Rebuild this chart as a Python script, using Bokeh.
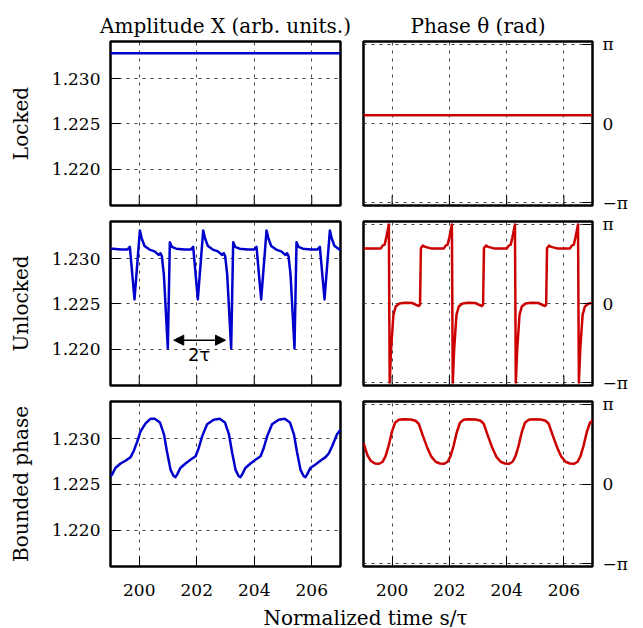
import math
from bokeh.plotting import figure
from bokeh.layouts import column, row
from bokeh.models import Range1d, PrintfTickFormatter, Arrow, NormalHead, Label
from bokeh.embed import file_html
from bokeh.resources import INLINE

# ---------------- data ----------------
t_ticks = [200, 202, 204, 206]
amp_ticks = [1.220, 1.225, 1.230]
phase_ticks = [-math.pi, 0.0, math.pi]
phase_labels = ["\u2212\u03c0", "0", "\u03c0"]

col_titles = ["Amplitude X (arb. units.)", "Phase \u03b8 (rad)"]
row_labels = ["Locked", "Unlocked", "Bounded phase"]
x_label = "Normalized time s/\u03c4"

# Locked
t_lock = [199.0, 207.0]
x_lock = [1.2328, 1.2328]
th_lock = [0.33, 0.33]

# Unlocked amplitude
t_unl = [199.000, 199.081, 199.371,
         199.585, 199.673, 199.835, 200.021, 200.090, 200.183, 200.357, 200.531, 200.681, 200.739, 200.785, 200.855, 200.994, 201.064, 201.134, 201.284, 201.574,
         201.788, 201.876, 202.038, 202.224, 202.293, 202.386, 202.560, 202.734, 202.884, 202.942, 202.988, 203.058, 203.197, 203.267, 203.337, 203.487, 203.777,
         203.991, 204.079, 204.241, 204.427, 204.496, 204.589, 204.763, 204.937, 205.087, 205.145, 205.191, 205.261, 205.400, 205.470, 205.540, 205.690, 205.980,
         206.194, 206.282, 206.444, 206.630, 206.699, 206.792, 206.966, 207.000]
x_unl = [1.2311, 1.2311, 1.2310,
         1.2310, 1.2313, 1.2255, 1.2331, 1.2322, 1.2314, 1.2310, 1.2308, 1.2304, 1.2306, 1.2303, 1.2283, 1.2201, 1.2318, 1.2313, 1.2311, 1.2310,
         1.2310, 1.2313, 1.2255, 1.2331, 1.2322, 1.2314, 1.2310, 1.2308, 1.2304, 1.2306, 1.2303, 1.2283, 1.2201, 1.2318, 1.2313, 1.2311, 1.2310,
         1.2310, 1.2313, 1.2255, 1.2331, 1.2322, 1.2314, 1.2310, 1.2308, 1.2304, 1.2306, 1.2303, 1.2283, 1.2201, 1.2318, 1.2313, 1.2311, 1.2310,
         1.2310, 1.2313, 1.2255, 1.2331, 1.2322, 1.2314, 1.2310, 1.2309]

# Unlocked phase
t_ph_unl = [199.000,
            199.605, 199.675, 199.735, 199.795, 199.885, 199.915, 199.965, 200.045, 200.125, 200.255, 200.455, 200.705, 200.855, 200.935, 200.975, 201.005, 201.075, 201.155, 201.355,
            201.808, 201.878, 201.938, 201.998, 202.088, 202.118, 202.168, 202.248, 202.328, 202.458, 202.658, 202.908, 203.058, 203.138, 203.178, 203.208, 203.278, 203.358, 203.558,
            204.011, 204.081, 204.141, 204.201, 204.291, 204.321, 204.371, 204.451, 204.531, 204.661, 204.861, 205.111, 205.261, 205.341, 205.381, 205.411, 205.481, 205.561, 205.761,
            206.214, 206.284, 206.344, 206.404, 206.494, 206.524, 206.574, 206.654, 206.734, 206.864, 207.000]
th_unl = [2.19,
          2.19, 2.31, 2.33, 2.62, 3.1416, -3.1416, -1.80, -0.45, -0.12, 0.00, 0.03, 0.02, -0.06, -0.10, -0.05, 2.20, 2.30, 2.25, 2.19,
          2.19, 2.31, 2.33, 2.62, 3.1416, -3.1416, -1.80, -0.45, -0.12, 0.00, 0.03, 0.02, -0.06, -0.10, -0.05, 2.20, 2.30, 2.25, 2.19,
          2.19, 2.31, 2.33, 2.62, 3.1416, -3.1416, -1.80, -0.45, -0.12, 0.00, 0.03, 0.02, -0.06, -0.10, -0.05, 2.20, 2.30, 2.25, 2.19,
          2.19, 2.31, 2.33, 2.62, 3.1416, -3.1416, -1.80, -0.45, -0.12, 0.00, 0.02]

# Bounded phase amplitude
t_bnd = [199.00, 199.06, 199.17, 199.35, 199.52, 199.70, 199.81, 199.93, 200.04, 200.22,
         200.39, 200.54, 200.72, 200.86, 200.97, 201.09, 201.20, 201.26, 201.32, 201.43,
         201.61, 201.78, 201.96, 202.07, 202.19, 202.36, 202.59, 202.80, 202.98, 203.12,
         203.23, 203.35, 203.46, 203.52, 203.58, 203.69, 203.87, 204.04, 204.22, 204.33,
         204.45, 204.62, 204.85, 205.06, 205.24, 205.38, 205.49, 205.61, 205.72, 205.78,
         205.84, 205.95, 206.13, 206.30, 206.48, 206.59, 206.71, 206.88, 207.00]
x_bnd = [1.2259, 1.2261, 1.2268, 1.2273, 1.2276, 1.2280, 1.2287, 1.2297, 1.2308, 1.2317,
         1.2322, 1.2322, 1.2318, 1.2305, 1.2285, 1.2266, 1.2259, 1.2258, 1.2261, 1.2268,
         1.2273, 1.2277, 1.2281, 1.2290, 1.2303, 1.2316, 1.2321, 1.2322, 1.2318, 1.2305,
         1.2285, 1.2266, 1.2259, 1.2258, 1.2261, 1.2268, 1.2273, 1.2277, 1.2281, 1.2290,
         1.2303, 1.2316, 1.2321, 1.2322, 1.2318, 1.2305, 1.2285, 1.2266, 1.2259, 1.2258,
         1.2261, 1.2268, 1.2272, 1.2276, 1.2280, 1.2284, 1.2292, 1.2305, 1.2310]

# Bounded phase phase
t_ph_bnd = [199.00, 199.14, 199.25, 199.40, 199.55, 199.67, 199.77, 199.88, 199.99, 200.10,
            200.23, 200.40, 200.65, 200.82, 200.93, 201.07, 201.24, 201.37, 201.52, 201.67,
            201.82, 201.94, 202.04, 202.15, 202.26, 202.37, 202.50, 202.67, 202.92, 203.09,
            203.20, 203.34, 203.51, 203.64, 203.79, 203.94, 204.09, 204.21, 204.31, 204.42,
            204.53, 204.64, 204.77, 204.94, 205.19, 205.36, 205.47, 205.61, 205.78, 205.91,
            206.06, 206.21, 206.36, 206.48, 206.58, 206.69, 206.80, 206.91, 207.00]
th_bnd = [1.62, 1.13, 0.92, 0.81, 0.80, 0.88, 1.10, 1.52, 2.05, 2.42,
          2.54, 2.56, 2.55, 2.50, 2.38, 1.92, 1.40, 1.08, 0.88, 0.81,
          0.80, 0.88, 1.10, 1.52, 2.05, 2.42, 2.54, 2.56, 2.55, 2.50,
          2.38, 1.92, 1.40, 1.08, 0.88, 0.81, 0.80, 0.88, 1.10, 1.52,
          2.05, 2.42, 2.54, 2.56, 2.55, 2.50, 2.38, 1.92, 1.40, 1.08,
          0.88, 0.81, 0.80, 0.88, 1.10, 1.52, 2.05, 2.42, 2.50]

amp_series = [(t_lock, x_lock), (t_unl, x_unl), (t_bnd, x_bnd)]
phase_series = [(t_lock, th_lock), (t_ph_unl, th_unl), (t_ph_bnd, th_bnd)]

# ---------------- styling ----------------
SERIF = "DejaVu Serif"
BLUE = "#0000cc"
RED = "#cc0000"
T_RANGE = (199.0, 207.0)
AMP_RANGE = (1.2160, 1.2341)
PH_RANGE = (-3.26, 3.26)

LEFT_W, RIGHT_W = 351, 292
ROWS = [  # (height, border_top, border_bottom)
    (213, 41, 8),
    (180, 8, 8),
    (213, 8, 40),
]
FOOT_H = 628 - sum(h for h, _, _ in ROWS)


def style_axis(ax, standoff=10):
    ax.axis_line_color = None
    ax.major_tick_in = 10
    ax.major_tick_out = 0
    ax.major_tick_line_color = "black"
    ax.major_tick_line_width = 1
    ax.minor_tick_line_color = None
    ax.major_label_text_font = SERIF
    ax.major_label_text_color = "black"
    ax.major_label_text_font_size = "17px"
    ax.major_label_standoff = standoff


def make_fig(r, c):
    h, bt, bb = ROWS[r]
    kw = dict(height=h, x_range=Range1d(*T_RANGE), min_border_top=bt, min_border_bottom=bb,
              toolbar_location=None, output_backend="svg")
    kw["title"] = col_titles[c] if r == 0 else None
    if c == 0:
        p = figure(width=LEFT_W, y_range=Range1d(*AMP_RANGE), min_border_left=110, min_border_right=11,
                   y_axis_location="left", **kw)
        t, v = amp_series[r]
        p.line(t, v, line_color=BLUE, line_width=2.5, line_join="round")
        p.yaxis.ticker = amp_ticks
        p.yaxis.formatter = PrintfTickFormatter(format="%.3f")
        p.yaxis.axis_label = row_labels[r]
        p.yaxis.axis_label_text_font = SERIF
        p.yaxis.axis_label_text_font_size = "20px"
        p.yaxis.axis_label_text_font_style = "normal"
        p.yaxis.axis_label_text_color = "black"
        p.yaxis.axis_label_standoff = 16
        ybot = AMP_RANGE[0]
    else:
        p = figure(width=RIGHT_W, y_range=Range1d(*PH_RANGE), min_border_left=12, min_border_right=51,
                   y_axis_location="right", **kw)
        t, v = phase_series[r]
        p.line(t, v, line_color=RED, line_width=2.5, line_join="round")
        p.yaxis.ticker = phase_ticks
        p.yaxis.major_label_overrides = dict(zip(phase_ticks, phase_labels))
        ybot = PH_RANGE[0]
    p.xaxis.ticker = t_ticks
    style_axis(p.yaxis[0], 10)
    style_axis(p.xaxis[0], 17)
    if r < 2:
        # no tick labels on the upper rows: hide the axis, keep inward tick marks
        p.xaxis.visible = False
        p.scatter(t_ticks, [ybot] * len(t_ticks), marker="dash", angle=math.pi / 2, size=20,
                  line_color="black", line_width=1)
    p.xgrid.grid_line_color = "#444444"
    p.ygrid.grid_line_color = "#444444"
    p.xgrid.grid_line_dash = "3 5"
    p.ygrid.grid_line_dash = "3 5"
    p.xgrid.grid_line_width = 1
    p.ygrid.grid_line_width = 1
    p.outline_line_color = "black"
    p.outline_line_width = 2.5
    p.outline_line_alpha = 1.0
    p.background_fill_color = "white"
    p.border_fill_color = "white"
    if r == 0:
        p.title.align = "center"
        p.title.text_font = SERIF
        p.title.text_font_size = "20px"
        p.title.text_font_style = "normal"
        p.title.text_color = "black"
        p.title.standoff = 8
    return p


figs = [[make_fig(r, c) for c in range(2)] for r in range(3)]

# annotation in the "Unlocked" amplitude panel
pu = figs[1][0]
pu.add_layout(Arrow(start=NormalHead(size=10, fill_color="black", line_color="black"),
                    end=NormalHead(size=10, fill_color="black", line_color="black"),
                    x_start=201.20, y_start=1.2210, x_end=203.00, y_end=1.2210,
                    line_color="black", line_width=1.5))
pu.add_layout(Label(x=202.08, y=1.2194, text="2\u03c4", text_font="DejaVu Sans",
                    text_font_size="18px", text_align="center", text_baseline="middle",
                    text_color="black"))

# footer with shared x-axis label
foot = figure(width=LEFT_W + RIGHT_W, height=FOOT_H, x_range=Range1d(0, LEFT_W + RIGHT_W),
              y_range=Range1d(0, FOOT_H), title=None,
              min_border=0, toolbar_location=None, output_backend="svg",
              x_axis_location=None, y_axis_location=None)
foot.grid.visible = False
foot.outline_line_color = None
foot.add_layout(Label(x=365, y=FOOT_H / 2, text=x_label, text_font=SERIF, text_font_size="20px",
                      text_align="center", text_baseline="middle", text_color="black"))

layout = column(row(*figs[0]), row(*figs[1]), row(*figs[2]), foot)
open("out.html", "w").write(file_html(layout, INLINE))
